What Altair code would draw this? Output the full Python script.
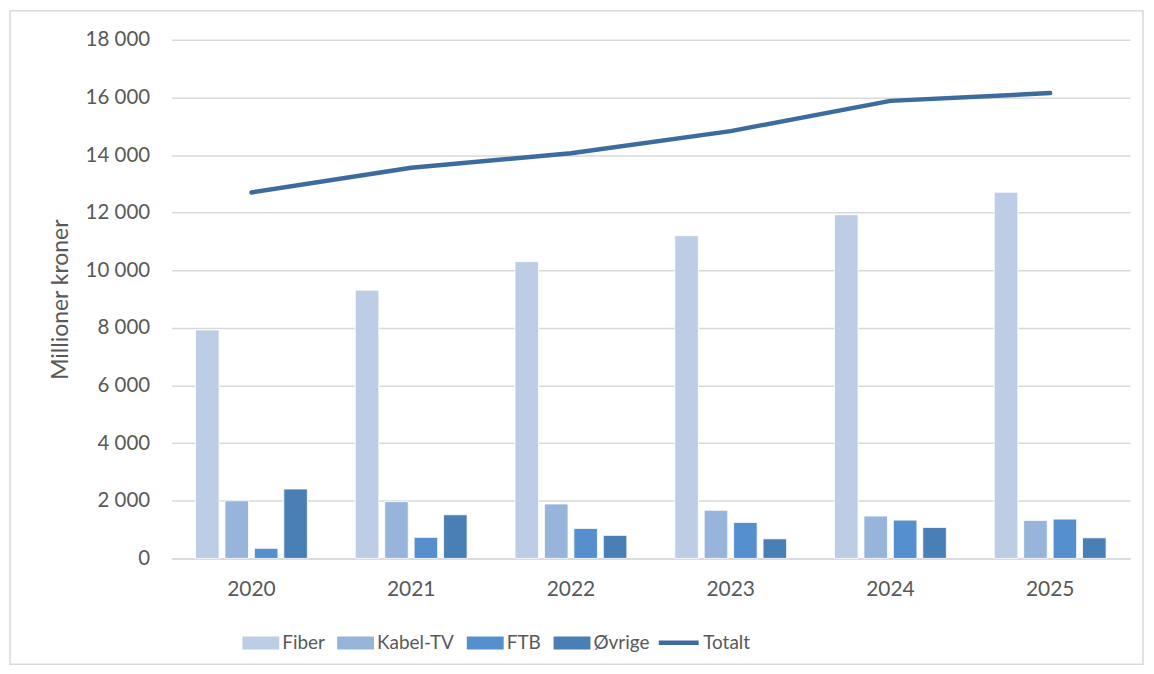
import altair as alt
import pandas as pd

years = ["2020", "2021", "2022", "2023", "2024", "2025"]
series_names = ["Fiber", "Kabel-TV", "FTB", "Øvrige"]
fiber = [7930, 9310, 10300, 11200, 11930, 12710]
kabel_tv = [2000, 1970, 1890, 1670, 1470, 1320]
ftb = [350, 730, 1040, 1250, 1330, 1365]
ovrige = [2410, 1515, 800, 680, 1075, 715]
totalt = [12700, 13560, 14060, 14830, 15880, 16150]

bar_colors = ["#BDCDE6", "#97B4DA", "#558FCE", "#4A7FB5"]
line_color = "#3E6B9E"
text_color = "#595959"
grid_color = "#D9D9D9"
FONT = "Lato"

rows = []
for name, vals in zip(series_names, [fiber, kabel_tv, ftb, ovrige]):
    for y, v in zip(years, vals):
        rows.append({"year": y, "series": name, "value": v})
bars_df = pd.DataFrame(rows)
line_df = pd.DataFrame({"year": years, "series": ["Totalt"] * len(years), "value": totalt})

x_enc = alt.X(
    "year:N",
    sort=years,
    title=None,
    scale=alt.Scale(paddingInner=0.3, paddingOuter=0.15),
    axis=alt.Axis(
        labelAngle=0,
        labelFont=FONT,
        labelFontSize=21,
        labelColor=text_color,
        labelPadding=20,
        ticks=False,
        domainColor=grid_color,
        domainWidth=1.5,
        grid=False,
    ),
)
y_enc = alt.Y(
    "value:Q",
    title="Millioner kroner",
    scale=alt.Scale(domain=[0, 18000], nice=False),
    axis=alt.Axis(
        values=list(range(0, 18001, 2000)),
        labelExpr="replace(format(datum.value, ','), ',', ' ')",
        labelFont=FONT,
        labelFontSize=20.5,
        labelColor=text_color,
        labelPadding=22,
        ticks=False,
        domain=False,
        grid=True,
        gridColor=grid_color,
        gridWidth=1.5,
        titleFont=FONT,
        titleFontSize=23,
        titleFontWeight="normal",
        titleColor=text_color,
        titlePadding=13,
    ),
)

bars = (
    alt.Chart(bars_df)
    .mark_bar(stroke="white", strokeWidth=0.8)
    .encode(
        x=x_enc,
        xOffset=alt.XOffset(
            "series:N",
            sort=series_names,
            scale=alt.Scale(domain=series_names, paddingInner=0.2, paddingOuter=0),
        ),
        y=y_enc,
        fill=alt.Fill(
            "series:N",
            scale=alt.Scale(domain=series_names, range=bar_colors),
            legend=alt.Legend(
                title=None,
                orient="none",
                direction="horizontal",
                legendX=71,
                legendY=586,
                symbolType="M-1,-0.35H1V0.35H-1Z",
                symbolSize=1369,
                symbolStrokeWidth=0,
                labelFont=FONT,
                labelFontSize=19,
                labelColor=text_color,
                labelOffset=3,
                columnPadding=12,
            ),
        ),
    )
)

line = (
    alt.Chart(line_df)
    .mark_line(strokeWidth=4.5, strokeCap="round", strokeJoin="round")
    .encode(
        x=alt.X("year:N", sort=years),
        y=alt.Y("value:Q"),
        stroke=alt.Stroke(
            "series:N",
            scale=alt.Scale(domain=["Totalt"], range=[line_color]),
            legend=alt.Legend(
                title=None,
                orient="none",
                direction="horizontal",
                legendX=486,
                legendY=582,
                symbolType="stroke",
                symbolSize=1600,
                symbolStrokeWidth=4.5,
                labelFont=FONT,
                labelFontSize=19,
                labelColor=text_color,
                labelOffset=2,
            ),
        ),
    )
)

frame = (
    alt.Chart(alt.Data(values=[{"f": 1}]))
    .mark_rect(filled=False, stroke=grid_color, strokeWidth=1.5)
    .encode(
        x=alt.value(-162),
        x2=alt.value(974),
        y=alt.value(-29),
        y2=alt.value(626),
    )
)

chart = (
    alt.layer(frame, bars, line)
    .resolve_scale(fill="independent", stroke="independent")
    .properties(
        width=961,
        height=520,
        autosize=alt.AutoSizeParams(type="none"),
        padding={"left": 164, "top": 31, "right": 16, "bottom": 107},
        background="white",
    )
    .configure_view(stroke=None)
)

chart.save("out.html", embed_options={"renderer": "svg", "actions": False})
